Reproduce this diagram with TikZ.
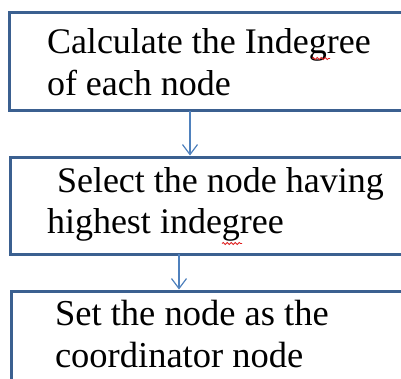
\documentclass[tikz,border=0pt]{standalone}
\usepackage{fontspec}
\setmainfont{Liberation Serif}
\usetikzlibrary{arrows.meta,decorations.pathmorphing}
\definecolor{boxline}{HTML}{3B6090}
\definecolor{arrline}{HTML}{4F81BD}
\definecolor{squig}{HTML}{E02020}
\tikzset{
  stepbox/.style={draw=boxline, line width=3pt, fill=white, rectangle, inner sep=0pt, outer sep=0pt,
    minimum width=420pt, anchor=north west},
  steptext/.style={anchor=base west, inner sep=0pt, outer sep=0pt, align=left,
    font=\fontsize{36}{42}\selectfont},
  arr/.style={draw=arrline, line width=1.3pt, -{Straight Barb[length=10pt,width=15pt,line width=1.2pt]}, shorten >=1.5pt},
  spell/.style={draw=squig, line width=0.8pt, decorate, decoration={snake, amplitude=1pt, segment length=4pt}}
}
\begin{document}
\begin{tikzpicture}[x=1pt,y=-1pt]
\useasboundingbox (0,0) rectangle (401,378);
\node[stepbox, minimum height=98pt] (b1) at (9,12.5) {};
\node[stepbox, minimum height=97pt] (b2) at (10,157) {};
\node[stepbox, minimum height=110pt] (b3) at (11,291) {};
\node[steptext] (t1) at (47,95) {Calculate the Indegree\\of each node};
\node[steptext, font=\fontsize{36}{41}\selectfont] (t2) at (47,233) {\hspace{10pt}Select the node having\\highest indegree};
\node[steptext, font=\fontsize{36.5}{42}\selectfont] (t3) at (55,367) {Set the node as the\\coordinator node};
\coordinate (s1a) at (312,58.5);
\coordinate (s1b) at (330,58.5);
\coordinate (s2a) at (222,243.5);
\coordinate (s2b) at (242,243.5);
\draw[spell] (s1a) -- (s1b);
\draw[spell] (s2a) -- (s2b);
\draw[arr] ([xshift=181pt]b1.south west) -- ([xshift=180pt]b2.north west);
\draw[arr] ([xshift=169pt]b2.south west) -- ([xshift=168pt]b3.north west);
\end{tikzpicture}
\end{document}
